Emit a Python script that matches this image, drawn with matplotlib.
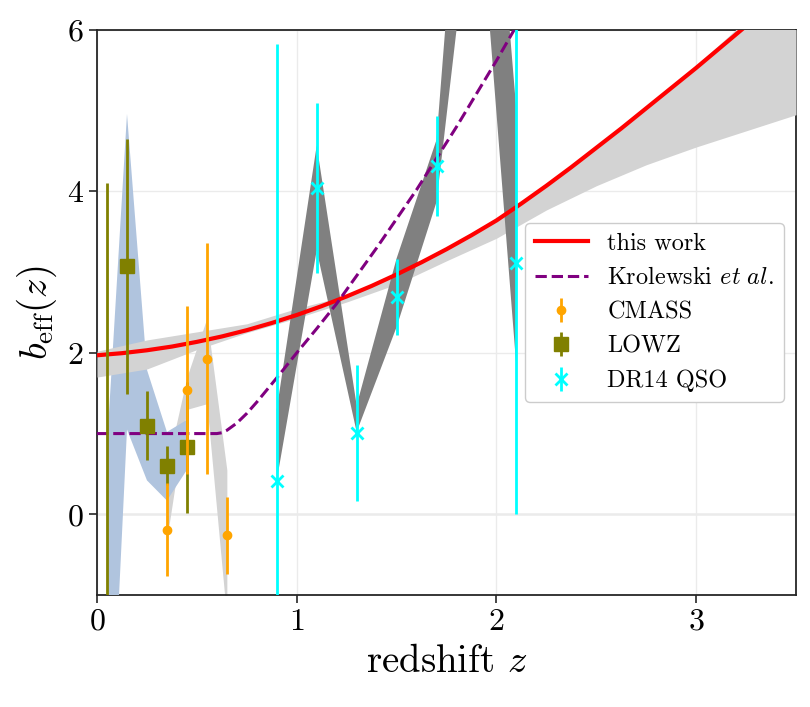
import matplotlib
matplotlib.use("Agg")
import matplotlib.pyplot as plt

plt.rcParams['font.family'] = 'serif'
plt.rcParams['font.serif'] = ['cmr10']
plt.rcParams['mathtext.fontset'] = 'cm'
plt.rcParams['axes.formatter.use_mathtext'] = True
plt.rcParams['axes.unicode_minus'] = False

# ---- "this work" curve ----
z_model = [0.0, 0.125, 0.25, 0.375, 0.5, 0.625, 0.75, 0.875, 1.0, 1.125, 1.25, 1.375,
           1.5, 1.625, 1.75, 1.875, 2.0, 2.125, 2.25, 2.375, 2.5, 2.625, 2.75, 2.875,
           3.0, 3.125, 3.25, 3.375, 3.5]
b_model = [1.970, 1.996, 2.032, 2.078, 2.136, 2.203, 2.281, 2.370, 2.469, 2.579, 2.699, 2.829,
           2.971, 3.122, 3.284, 3.457, 3.640, 3.85, 4.07, 4.30, 4.54, 4.78, 5.03, 5.28,
           5.53, 5.79, 6.05, 6.35, 6.66]

# ---- "this work" uncertainty band ----
z_band = [0.0, 0.25, 0.5, 0.75, 1.0, 1.25, 1.5, 1.75, 2.0, 2.25, 2.5, 2.75, 3.0, 3.25, 3.5]
band_lo = [1.70, 1.80, 2.04, 2.25, 2.43, 2.63, 2.85, 3.14, 3.42, 3.77, 4.07, 4.33, 4.55, 4.75, 4.95]
band_hi = [2.02, 2.16, 2.26, 2.36, 2.55, 2.71, 2.98, 3.29, 3.65, 4.08, 4.55, 5.04, 5.56, 6.12, 6.80]

# ---- Krolewski et al. ----
z_krol = [0.0, 0.6, 0.625, 0.65, 0.7, 0.75, 0.8, 0.9, 1.0, 1.1, 1.2, 1.4, 1.6, 1.8, 2.0, 2.1]
b_krol = [1.0, 1.0, 1.01, 1.04, 1.13, 1.25, 1.39, 1.69, 2.00, 2.30, 2.61, 3.30, 4.02, 4.80, 5.62, 6.05]

# ---- CMASS ----
z_cmass = [0.35, 0.45, 0.55, 0.65]
b_cmass = [-0.19, 1.54, 1.93, -0.26]
e_cmass = [0.58, 1.04, 1.43, 0.48]
cmass_lo = [-0.30, 1.30, 1.37, -1.30]
cmass_hi = [0.60, 1.70, 2.43, 0.55]

# ---- LOWZ ----
z_lowz = [0.05, 0.15, 0.25, 0.35, 0.45]
b_lowz = [-1.8, 3.07, 1.10, 0.60, 0.83]
e_lowz = [5.9, 1.58, 0.43, 0.24, 0.81]
lowz_lo = [-4.1, 1.05, 0.42, 0.17, 0.55]
lowz_hi = [0.85, 4.96, 1.79, 1.02, 1.17]

# ---- DR14 QSO ----
z_qso = [0.9, 1.1, 1.3, 1.5, 1.7, 1.9, 2.1]
b_qso = [0.41, 4.04, 1.01, 2.69, 4.31, 9.5, 3.11]
e_qso = [5.42, 1.05, 0.84, 0.47, 0.62, 2.5, 3.11]
qso_lo = [0.42, 3.27, 1.02, 2.32, 3.87, 8.13, 1.82]
qso_hi = [1.30, 4.57, 1.35, 3.17, 4.64, 10.96, 5.00]

fig = plt.figure(figsize=(8.1, 7.07), dpi=100)
ax = fig.add_axes([0.1198, 0.1584, 0.8629, 0.7992])

ax.grid(True, color='#ebebeb', lw=1.0, zorder=0)
ax.axhline(0, color='black', lw=0.8, zorder=1)

ax.fill_between(z_cmass, cmass_lo, cmass_hi, color='lightgray', lw=0, zorder=2)
ax.fill_between(z_lowz, lowz_lo, lowz_hi, color='lightsteelblue', lw=0, zorder=3)
ax.fill_between(z_band, band_lo, band_hi, color='lightgray', lw=0, zorder=4)
ax.fill_between(z_qso, qso_lo, qso_hi, color='gray', lw=0, zorder=5)

ax.plot(z_model, b_model, color='red', lw=3, label='this work', zorder=6)
ax.plot(z_krol, b_krol, color='purple', lw=2.2, ls='--', label=r'Krolewski $et\ al.$', zorder=6)

ax.errorbar(z_cmass, b_cmass, yerr=e_cmass, fmt='o', color='orange', ms=6,
            elinewidth=2, capsize=0, label='CMASS', zorder=8)
ax.errorbar(z_lowz, b_lowz, yerr=e_lowz, fmt='s', color='olive', ms=10,
            elinewidth=2, capsize=0, label='LOWZ', zorder=7)
ax.errorbar(z_qso, b_qso, yerr=e_qso, fmt='x', color='cyan', ms=9, mew=2,
            elinewidth=2, capsize=0, label='DR14 QSO', zorder=8)

ax.set_xlim(0, 3.5)
ax.set_ylim(-1, 6)
ax.set_xticks([0, 1, 2, 3])
ax.set_yticks([0, 2, 4, 6])
ax.tick_params(labelsize=23, direction='out', length=6, width=1.2, color='#262626')
for s in ax.spines.values():
    s.set_color('#262626')
    s.set_linewidth(1.3)

ax.set_xlabel(r'redshift $z$', fontsize=28, labelpad=6)
ax.set_ylabel(r'$b_{\rm eff}(z)$', fontsize=28, labelpad=6)

ax.legend(loc='center right', fontsize=17.5, framealpha=1, edgecolor='#cccccc',
          fancybox=True, handlelength=2.2)

fig.savefig('out.png', dpi=100)
